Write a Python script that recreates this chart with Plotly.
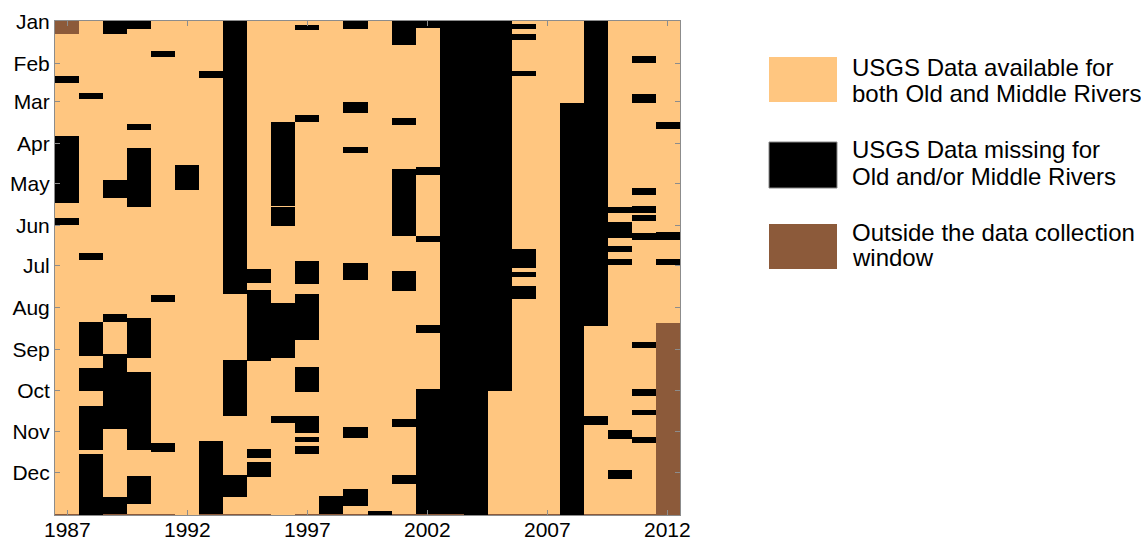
import plotly.graph_objects as go

# Water years on the x axis, day-of-year on the y axis
years = list(range(1987, 2013))

# Day ranges (inclusive) with USGS data missing for Old and/or Middle Rivers
missing_days = [
    [(42, 46), (86, 135), (147, 151)],                                   # 1987
    [(54, 58), (173, 177), (224, 248), (258, 274), (286, 318), (322, 366)],  # 1988
    [(1, 10), (119, 131), (218, 223), (248, 302), (354, 366)],           # 1989
    [(1, 6), (77, 81), (95, 138), (221, 250), (261, 318), (338, 358)],   # 1990
    [(23, 27), (204, 208), (314, 319)],                                  # 1991
    [(108, 125)],                                                        # 1992
    [(38, 42), (312, 366)],                                              # 1993
    [(1, 202), (252, 293), (337, 353)],                                  # 1994
    [(185, 194), (200, 252), (318, 324), (328, 338)],                    # 1995
    [(76, 137), (139, 152), (210, 250), (294, 298)],                     # 1996
    [(4, 7), (71, 75), (179, 195), (203, 236), (257, 275), (294, 305),
     (309, 312), (316, 321)],                                            # 1997
    [(353, 366)],                                                        # 1998
    [(1, 6), (61, 68), (94, 98), (180, 192), (302, 309), (348, 359)],    # 1999
    [(364, 366)],                                                        # 2000
    [(1, 18), (73, 77), (111, 159), (186, 200), (296, 301), (337, 343)], # 2001
    [(1, 5), (109, 114), (160, 164), (226, 231), (274, 366)],            # 2002
    [(1, 366)],                                                          # 2003
    [(1, 366)],                                                          # 2004
    [(1, 274)],                                                          # 2005
    [(3, 6), (11, 14), (38, 41), (170, 183), (187, 190), (197, 206)],    # 2006
    [],                                                                  # 2007
    [(62, 366)],                                                         # 2008
    [(1, 226), (294, 299)],                                              # 2009
    [(139, 142), (150, 161), (168, 171), (177, 181), (304, 310), (334, 339)],  # 2010
    [(27, 31), (55, 61), (125, 129), (138, 142), (145, 148), (158, 162),
     (239, 242), (274, 278), (289, 292), (309, 313)],                    # 2011
    [(76, 80), (157, 162), (177, 181)],                                  # 2012
]

# Day ranges outside the data collection window
outside_days = {1987: [(1, 10)], 2012: [(225, 366)]}

month_labels = ["Jan", "Feb", "Mar", "Apr", "May", "Jun",
                "Jul", "Aug", "Sep", "Oct", "Nov", "Dec"]
month_start_days = [1, 32, 60, 91, 121, 152, 182, 213, 244, 274, 305, 335]
year_ticks = [1987, 1992, 1997, 2002, 2007, 2012]

TAN = "#FFC680"
BLACK = "#000000"
BROWN = "#8C5A3A"

days = list(range(1, 367))

# 0 = available, 1 = missing, 2 = outside window
z = [[0 for _ in years] for _ in days]
for j, yr in enumerate(years):
    for a, b in missing_days[j]:
        for d in range(a, b + 1):
            z[d - 1][j] = 1
    for a, b in outside_days.get(yr, []):
        for d in range(a, b + 1):
            z[d - 1][j] = 2
    if yr % 4 != 0:
        z[365][j] = 2  # day 366 does not exist

fig = go.Figure(go.Heatmap(
    x=years, y=days, z=z,
    zmin=0, zmax=2,
    colorscale=[[0, TAN], [1 / 3, TAN], [1 / 3, BLACK], [2 / 3, BLACK],
                [2 / 3, BROWN], [1, BROWN]],
    showscale=False, hoverinfo="skip",
))

W, H = 1141, 543
L, R, T, B = 55, 680, 21, 515


def px(x):
    return (x - L) / (R - L)


def py(y):
    return (B - y) / (B - T)


FONT = "Liberation Sans, Arial, sans-serif"

axis_common = dict(
    showline=True, linecolor="#8c8c8c", linewidth=1, mirror="ticks",
    ticks="inside", ticklen=5, tickcolor="#8c8c8c", tickwidth=1,
    showgrid=False, zeroline=False, automargin=False,
)

# Year labels are placed as annotations just under the axis so they fit
fig.update_xaxes(range=[1986.5, 2012.5], tickvals=year_ticks,
                 showticklabels=False, **axis_common)
fig.update_yaxes(range=[366.5, 0.5], tickvals=month_start_days,
                 ticktext=month_labels, ticklabelstandoff=0,
                 tickfont=dict(family=FONT, size=21, color="#000"), **axis_common)

annotations = []
for yr in year_ticks:
    annotations.append(dict(
        text=str(yr), xref="x", yref="paper", x=yr, y=py(529),
        xanchor="center", yanchor="middle", showarrow=False,
        font=dict(family=FONT, size=21, color="#000"),
    ))

# Legend drawn as swatches with text
legend_items = [
    (57, 102, TAN, None, ["USGS Data available for", "both Old and Middle Rivers"], [67, 93]),
    (142, 188, BLACK, "#888888", ["USGS Data missing for", "Old and/or Middle Rivers"], [150, 176]),
    (224, 269, BROWN, None, ["Outside the data collection", "window"], [232, 257]),
]
shapes = []
for y0, y1, col, border, lines, ys in legend_items:
    shapes.append(dict(
        type="rect", xref="paper", yref="paper",
        x0=px(769), x1=px(837), y0=py(y1), y1=py(y0),
        fillcolor=col,
        line=dict(color=border if border else col, width=1 if border else 0),
    ))
    for text, yy in zip(lines, ys):
        annotations.append(dict(
            text=text, xref="paper", yref="paper",
            x=px(850), y=py(yy), xanchor="left", yanchor="middle",
            showarrow=False,
            font=dict(family=FONT, size=24, color="#000"),
        ))

fig.update_layout(
    width=W, height=H,
    margin=dict(l=L, r=W - R, t=T, b=H - B),
    paper_bgcolor="white", plot_bgcolor="white",
    shapes=shapes, annotations=annotations,
)

fig.write_html("out.html")
